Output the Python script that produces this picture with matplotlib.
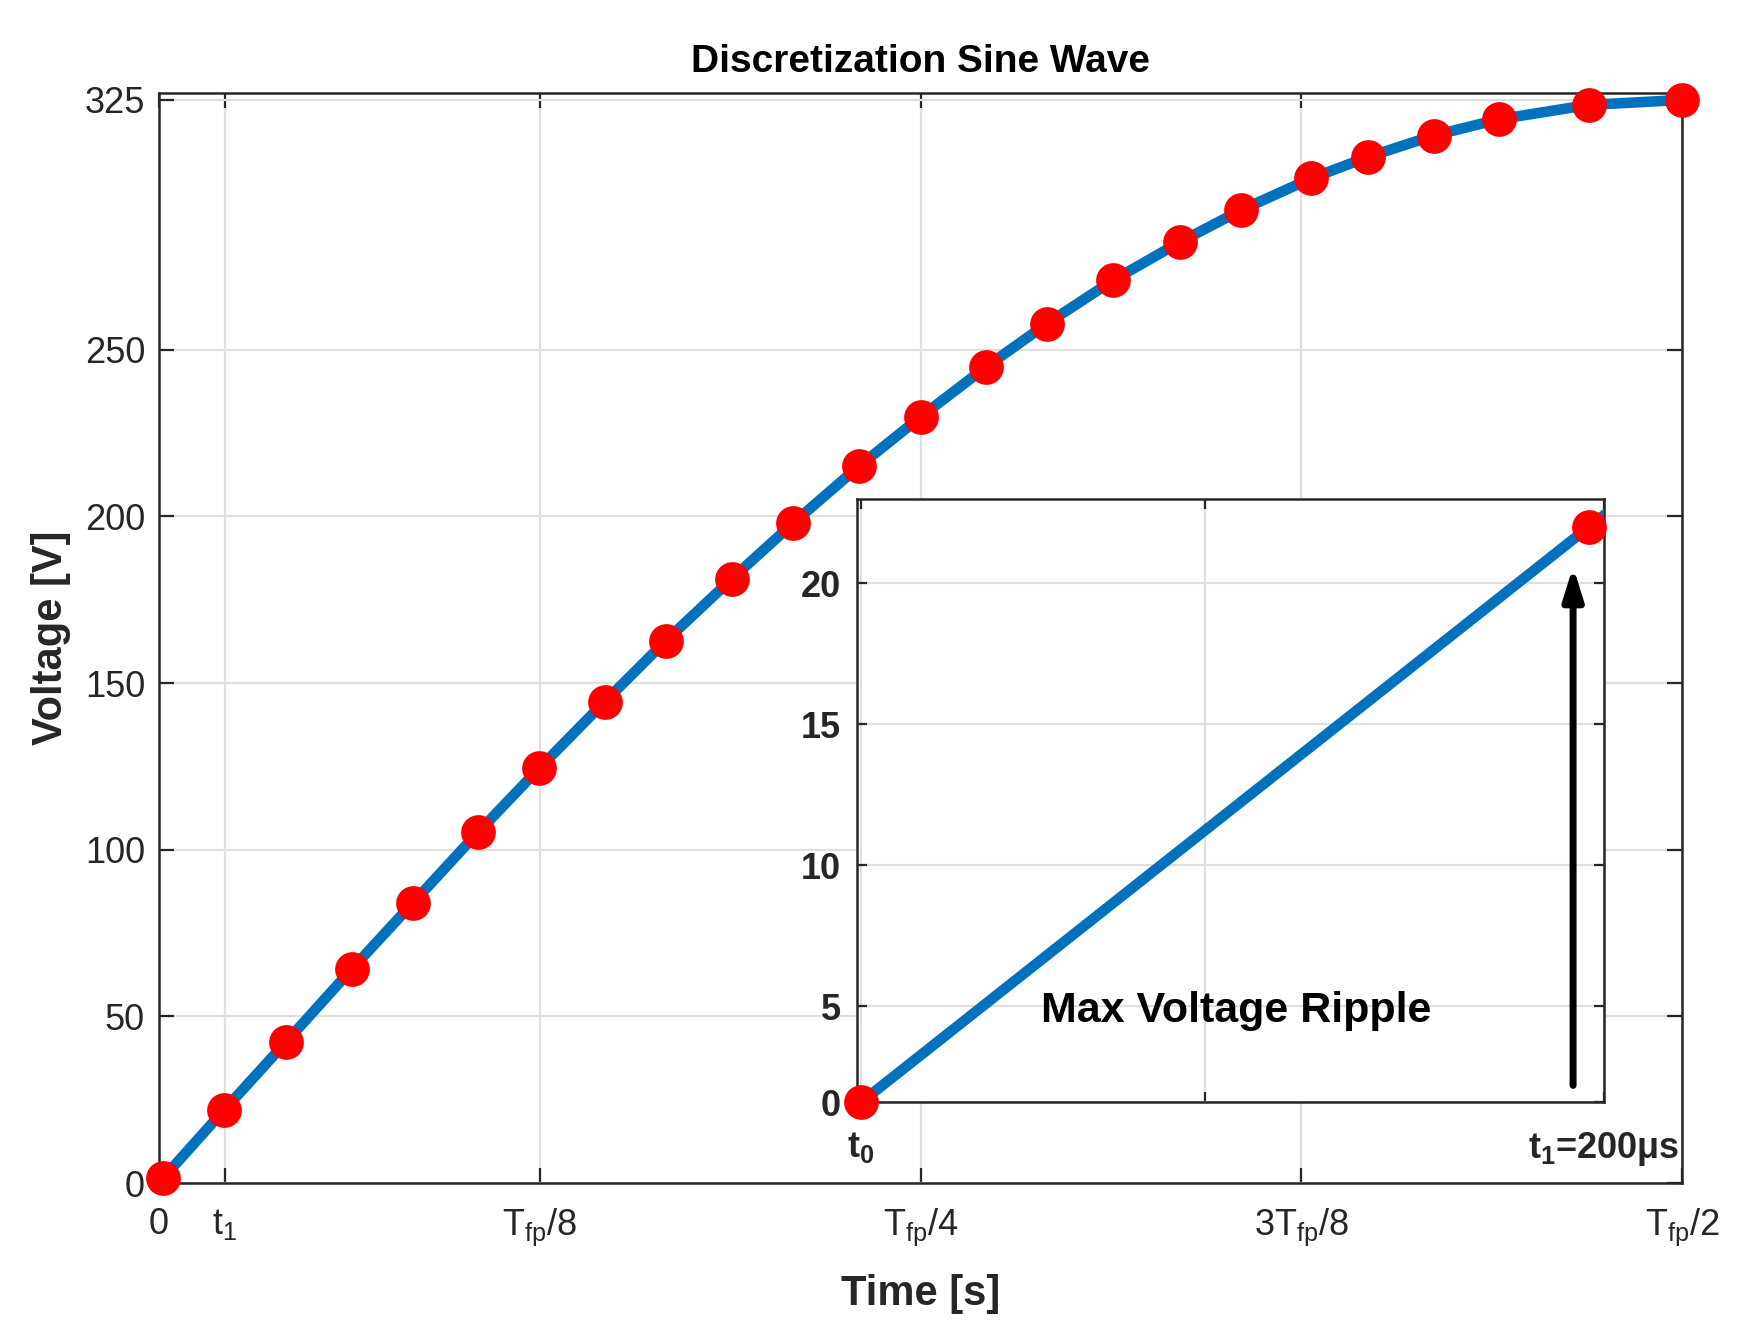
import matplotlib
matplotlib.use('Agg')
import matplotlib.pyplot as plt

t_samples = [0.00143, 0.02147, 0.04167, 0.0633, 0.0833, 0.1048, 0.1248, 0.1463,
             0.1663, 0.1881, 0.2082, 0.2299, 0.25, 0.2716, 0.2915, 0.3132,
             0.3350, 0.3551, 0.3783, 0.3969, 0.4184, 0.4399, 0.4693, 0.5]
v_samples = [1.6, 22.0, 42.3, 64.2, 84.0, 105.3, 124.4, 144.4,
             162.6, 181.3, 198.0, 215.1, 229.8, 244.9, 257.8, 270.8,
             282.2, 291.8, 301.4, 307.8, 314.2, 319.1, 323.4, 324.9]

x_ticks = [0, 0.0216, 0.125, 0.25, 0.375, 0.5]
x_ticklabels = ['0', r'$\mathregular{t_1}$', r'$\mathregular{T_{fp}/8}$',
                r'$\mathregular{T_{fp}/4}$', r'$\mathregular{3T_{fp}/8}$',
                r'$\mathregular{T_{fp}/2}$']
y_ticks = [0, 50, 100, 150, 200, 250, 325]

in_y_ticks = [1.6, 5, 10, 15, 20]
in_y_ticklabels = ['0', '5', '10', '15', '20']
in_x_ticks = [0.00143, 0.01089, 0.02188]
in_x_ticklabels = [r'$\mathbf{t_0}$', '', r'$\mathbf{t_1}$=200μs']

plt.rcParams['font.family'] = ['Liberation Sans', 'DejaVu Sans']
plt.rcParams['mathtext.fontset'] = 'custom'
plt.rcParams['mathtext.rm'] = 'Liberation Sans'
plt.rcParams['mathtext.it'] = 'Liberation Sans:italic'
plt.rcParams['mathtext.bf'] = 'Liberation Sans:bold'

dark = '#262626'
blue = '#0072BD'
grid_c = '#dfdfdf'

fig = plt.figure(figsize=(8.81, 6.68), dpi=200)
ax = fig.add_axes([0.0902, 0.1144, 0.8645, 0.8158])

ax.plot(t_samples, v_samples, color=blue, lw=3.8, zorder=3)
ax.plot(t_samples, v_samples, 'o', color='red', ms=11.5, mec='red', clip_on=False, zorder=4)
ax.set_xlim(0, 0.5)
ax.set_ylim(0, 326.9)
ax.set_xticks(x_ticks)
ax.set_xticklabels(x_ticklabels)
ax.set_yticks(y_ticks)
ax.grid(True, color=grid_c, lw=0.8)
ax.set_axisbelow(True)
ax.tick_params(direction='in', top=True, right=True, length=5.5, width=0.8,
               colors=dark, labelsize=13)
ax.tick_params(axis='x', pad=8.5)
ax.tick_params(axis='y', pad=5)
for s in ax.spines.values():
    s.set_color(dark)
    s.set_linewidth(0.9)

fig.text(0.5225, 0.9537, 'Discretization Sine Wave', ha='center', va='center',
         fontsize=14, fontweight='bold', color='black')
fig.text(0.0287, 0.5223, 'Voltage [V]', rotation=90, ha='center', va='center',
         fontsize=15, fontweight='bold', color=dark)
fig.text(0.5225, 0.0311, 'Time [s]', ha='center', va='center',
         fontsize=15, fontweight='bold', color=dark)

# zoomed inset on the first step
ax_in = fig.add_axes([0.4866, 0.1749, 0.4235, 0.4517])
ax_in.plot(t_samples[:3], v_samples[:3], color=blue, lw=3.8, zorder=3)
ax_in.plot(t_samples[:2], v_samples[:2], 'o', color='red', ms=11.5, mec='red',
           clip_on=False, zorder=4)
ax_in.set_xlim(0.00133, 0.02188)
ax_in.set_ylim(1.6, 23.0)
ax_in.set_xticks(in_x_ticks)
ax_in.set_xticklabels(in_x_ticklabels)
ax_in.set_yticks(in_y_ticks)
ax_in.set_yticklabels(in_y_ticklabels)
ax_in.grid(True, color=grid_c, lw=0.8)
ax_in.set_axisbelow(True)
ax_in.tick_params(direction='in', top=True, right=True, length=3.5, width=0.8,
                  colors=dark, labelsize=13)
ax_in.tick_params(axis='x', pad=10)
ax_in.tick_params(axis='y', pad=6)
for lbl in ax_in.get_xticklabels() + ax_in.get_yticklabels():
    lbl.set_fontweight('bold')
for s in ax_in.spines.values():
    s.set_color(dark)
    s.set_linewidth(0.9)

ax_in.annotate('', xy=(0.02104, 20.6), xytext=(0.02104, 2.2),
               arrowprops=dict(arrowstyle='-|>,head_length=0.8,head_width=0.25',
                               lw=2.5, color='black', mutation_scale=12,
                               shrinkA=0, shrinkB=0))
ax_in.text(0.508, 0.152, 'Max Voltage Ripple', transform=ax_in.transAxes,
           ha='center', va='center', fontsize=15.5, fontweight='bold', color='black')

fig.savefig('out.png', dpi=200, facecolor='white')
